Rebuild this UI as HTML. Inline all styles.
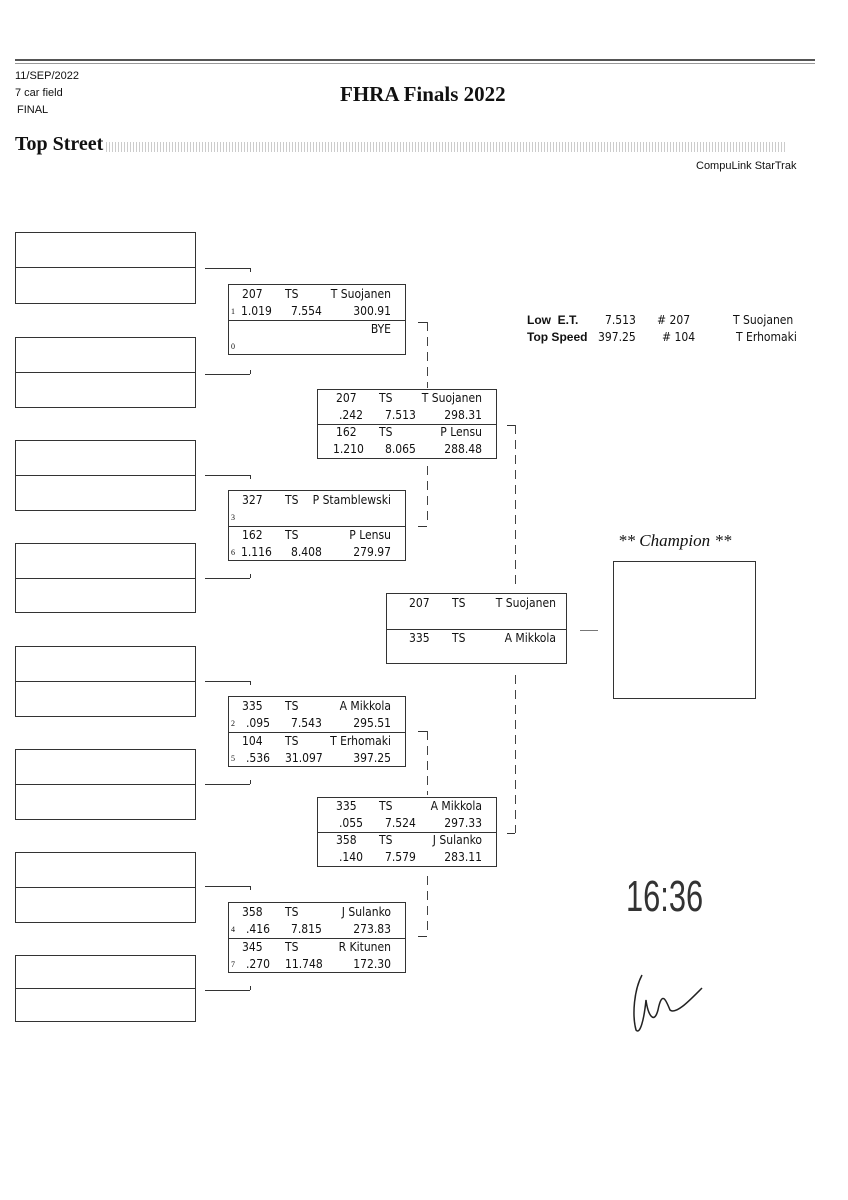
<!DOCTYPE html>
<html><head><meta charset="utf-8">
<style>
body{margin:0;background:#fff;}
#p{position:relative;width:848px;height:1200px;overflow:hidden;background:#fff;font-family:"DejaVu Sans Condensed","DejaVu Sans",sans-serif;color:#111;}
.a{position:absolute;white-space:nowrap;}
.e{position:absolute;border:1px solid #333;box-sizing:border-box;}
.h{position:absolute;border-top:1px solid #333;height:0;}
.v{position:absolute;width:1px;background:repeating-linear-gradient(180deg,#444 0 9px,transparent 9px 15px);}
.sv{position:absolute;border-left:1px solid #333;width:0;}
.bx{position:absolute;border:1px solid #333;box-sizing:border-box;width:178px;height:71px;font-size:12px;}
.bx .d{position:absolute;left:0;right:0;top:35px;border-top:1px solid #333;}
.bx span{position:absolute;line-height:14px;white-space:nowrap;}
.sd{font-size:8px;font-family:"Liberation Serif",serif;}
.hd{font-family:"Liberation Sans",sans-serif;font-size:11px;}
</style></head><body><div id="p">
<div class="h" style="left:15px;top:59px;width:800px;border-top:2px solid #555"></div>
<div class="h" style="left:15px;top:63px;width:800px;border-top:1px solid #999"></div>
<div class="a hd" style="left:15px;top:70px">11/SEP/2022</div>
<div class="a hd" style="left:15px;top:87px">7 car field</div>
<div class="a hd" style="left:17px;top:104px">FINAL</div>
<div class="a" style="left:340px;top:82px;font:bold 21px 'Liberation Serif',serif">FHRA Finals 2022</div>
<div class="a" style="left:15px;top:133px;font:bold 20px 'Liberation Serif',serif">Top Street</div>
<div class="a" style="left:106px;top:142px;width:680px;height:10px;background:repeating-linear-gradient(90deg,#ccc 0 1px,#fff 1px 3px);"></div>
<div class="a hd" style="left:696px;top:160px">CompuLink StarTrak</div>

<div class="e" style="left:15px;top:232px;width:181px;height:72px"></div><div class="h" style="left:15px;top:267px;width:181px"></div>
<div class="e" style="left:15px;top:337px;width:181px;height:71px"></div><div class="h" style="left:15px;top:372px;width:181px"></div>
<div class="e" style="left:15px;top:440px;width:181px;height:71px"></div><div class="h" style="left:15px;top:475px;width:181px"></div>
<div class="e" style="left:15px;top:543px;width:181px;height:70px"></div><div class="h" style="left:15px;top:578px;width:181px"></div>
<div class="e" style="left:15px;top:646px;width:181px;height:71px"></div><div class="h" style="left:15px;top:681px;width:181px"></div>
<div class="e" style="left:15px;top:749px;width:181px;height:71px"></div><div class="h" style="left:15px;top:784px;width:181px"></div>
<div class="e" style="left:15px;top:852px;width:181px;height:71px"></div><div class="h" style="left:15px;top:887px;width:181px"></div>
<div class="e" style="left:15px;top:955px;width:181px;height:67px"></div><div class="h" style="left:15px;top:988px;width:181px"></div>

<div class="h" style="left:205px;top:268px;width:45px"></div><div class="sv" style="left:250px;top:268px;height:4px"></div>
<div class="h" style="left:205px;top:374px;width:45px"></div><div class="sv" style="left:250px;top:370px;height:4px"></div>
<div class="h" style="left:205px;top:475px;width:45px"></div><div class="sv" style="left:250px;top:475px;height:4px"></div>
<div class="h" style="left:205px;top:578px;width:45px"></div><div class="sv" style="left:250px;top:574px;height:4px"></div>
<div class="h" style="left:205px;top:681px;width:45px"></div><div class="sv" style="left:250px;top:681px;height:4px"></div>
<div class="h" style="left:205px;top:784px;width:45px"></div><div class="sv" style="left:250px;top:780px;height:4px"></div>
<div class="h" style="left:205px;top:886px;width:45px"></div><div class="sv" style="left:250px;top:886px;height:4px"></div>
<div class="h" style="left:205px;top:990px;width:45px"></div><div class="sv" style="left:250px;top:986px;height:4px"></div>

<div class="bx" style="left:228px;top:284px"><div class="d"></div>
<span style="left:13px;top:2px">207</span><span style="left:56px;top:2px">TS</span><span style="right:14px;top:2px">T Suojanen</span>
<span class="sd" style="left:2px;top:20px">1</span><span style="left:12px;top:19px">1.019</span><span style="left:62px;top:19px">7.554</span><span style="right:14px;top:19px">300.91</span>
<span style="right:14px;top:37px">BYE</span><span class="sd" style="left:2px;top:55px">0</span></div>

<div class="bx" style="left:228px;top:490px"><div class="d"></div>
<span style="left:13px;top:2px">327</span><span style="left:56px;top:2px">TS</span><span style="right:14px;top:2px">P Stamblewski</span>
<span class="sd" style="left:2px;top:20px">3</span>
<span style="left:13px;top:37px">162</span><span style="left:56px;top:37px">TS</span><span style="right:14px;top:37px">P Lensu</span>
<span class="sd" style="left:2px;top:55px">6</span><span style="left:12px;top:54px">1.116</span><span style="left:62px;top:54px">8.408</span><span style="right:14px;top:54px">279.97</span></div>

<div class="bx" style="left:228px;top:696px"><div class="d"></div>
<span style="left:13px;top:2px">335</span><span style="left:56px;top:2px">TS</span><span style="right:14px;top:2px">A Mikkola</span>
<span class="sd" style="left:2px;top:20px">2</span><span style="left:17px;top:19px">.095</span><span style="left:62px;top:19px">7.543</span><span style="right:14px;top:19px">295.51</span>
<span style="left:13px;top:37px">104</span><span style="left:56px;top:37px">TS</span><span style="right:14px;top:37px">T Erhomaki</span>
<span class="sd" style="left:2px;top:55px">5</span><span style="left:17px;top:54px">.536</span><span style="left:56px;top:54px">31.097</span><span style="right:14px;top:54px">397.25</span></div>

<div class="bx" style="left:228px;top:902px"><div class="d"></div>
<span style="left:13px;top:2px">358</span><span style="left:56px;top:2px">TS</span><span style="right:14px;top:2px">J Sulanko</span>
<span class="sd" style="left:2px;top:20px">4</span><span style="left:17px;top:19px">.416</span><span style="left:62px;top:19px">7.815</span><span style="right:14px;top:19px">273.83</span>
<span style="left:13px;top:37px">345</span><span style="left:56px;top:37px">TS</span><span style="right:14px;top:37px">R Kitunen</span>
<span class="sd" style="left:2px;top:55px">7</span><span style="left:17px;top:54px">.270</span><span style="left:56px;top:54px">11.748</span><span style="right:14px;top:54px">172.30</span></div>

<div class="h" style="left:418px;top:322px;width:9px"></div><div class="v" style="left:427px;top:322px;height:66px"></div>
<div class="v" style="left:427px;top:466px;height:60px"></div><div class="h" style="left:418px;top:526px;width:9px"></div>
<div class="h" style="left:418px;top:731px;width:9px"></div><div class="v" style="left:427px;top:731px;height:64px"></div>
<div class="v" style="left:427px;top:876px;height:60px"></div><div class="h" style="left:418px;top:936px;width:9px"></div>

<div class="bx" style="left:317px;top:389px;width:180px;height:70px"><div class="d" style="top:34px"></div>
<span style="left:18px;top:1px">207</span><span style="left:61px;top:1px">TS</span><span style="right:14px;top:1px">T Suojanen</span>
<span style="left:21px;top:18px">.242</span><span style="left:67px;top:18px">7.513</span><span style="right:14px;top:18px">298.31</span>
<span style="left:18px;top:35px">162</span><span style="left:61px;top:35px">TS</span><span style="right:14px;top:35px">P Lensu</span>
<span style="left:15px;top:52px">1.210</span><span style="left:67px;top:52px">8.065</span><span style="right:14px;top:52px">288.48</span></div>

<div class="bx" style="left:317px;top:797px;width:180px;height:70px"><div class="d" style="top:34px"></div>
<span style="left:18px;top:1px">335</span><span style="left:61px;top:1px">TS</span><span style="right:14px;top:1px">A Mikkola</span>
<span style="left:21px;top:18px">.055</span><span style="left:67px;top:18px">7.524</span><span style="right:14px;top:18px">297.33</span>
<span style="left:18px;top:35px">358</span><span style="left:61px;top:35px">TS</span><span style="right:14px;top:35px">J Sulanko</span>
<span style="left:21px;top:52px">.140</span><span style="left:67px;top:52px">7.579</span><span style="right:14px;top:52px">283.11</span></div>

<div class="h" style="left:507px;top:425px;width:8px"></div><div class="v" style="left:515px;top:425px;height:163px"></div>
<div class="v" style="left:515px;top:675px;height:158px"></div><div class="h" style="left:507px;top:833px;width:8px"></div>

<div class="bx" style="left:386px;top:593px;width:181px;height:71px"><div class="d"></div>
<span style="left:22px;top:2px">207</span><span style="left:65px;top:2px">TS</span><span style="right:10px;top:2px">T Suojanen</span>
<span style="left:22px;top:37px">335</span><span style="left:65px;top:37px">TS</span><span style="right:10px;top:37px">A Mikkola</span></div>
<div class="h" style="left:580px;top:630px;width:18px;border-color:#777"></div>

<div class="a" style="left:618px;top:531px;font:italic 17px 'Liberation Serif',serif">** Champion **</div>
<div class="e" style="left:613px;top:561px;width:143px;height:138px"></div>

<div class="a" style="left:527px;top:313px;font:bold 12px 'Liberation Sans',sans-serif">Low&nbsp;&nbsp;E.T.</div>
<div class="a" style="left:527px;top:330px;font:bold 12px 'Liberation Sans',sans-serif">Top Speed</div>
<div class="a" style="left:605px;top:313px;font-size:12px">7.513</div>
<div class="a" style="left:598px;top:330px;font-size:12px">397.25</div>
<div class="a" style="left:657px;top:313px;font-size:12px"># 207</div>
<div class="a" style="left:662px;top:330px;font-size:12px"># 104</div>
<div class="a" style="left:733px;top:313px;font-size:12px">T Suojanen</div>
<div class="a" style="left:736px;top:330px;font-size:12px">T Erhomaki</div>

<div class="a" style="left:626px;top:872px;font:44px 'DejaVu Sans ExtraLight','Liberation Sans',sans-serif;color:#333;transform:scaleX(.7);transform-origin:left">16:36</div>
<svg class="a" style="left:620px;top:970px" width="100" height="70"><path d="M22 5 C14 20 12 45 16 60 C20 65 24 50 26 30 C28 45 34 55 38 40 C42 20 46 30 50 40 C56 45 70 30 82 18" fill="none" stroke="#222" stroke-width="1.5"/></svg>
</div></body></html>
